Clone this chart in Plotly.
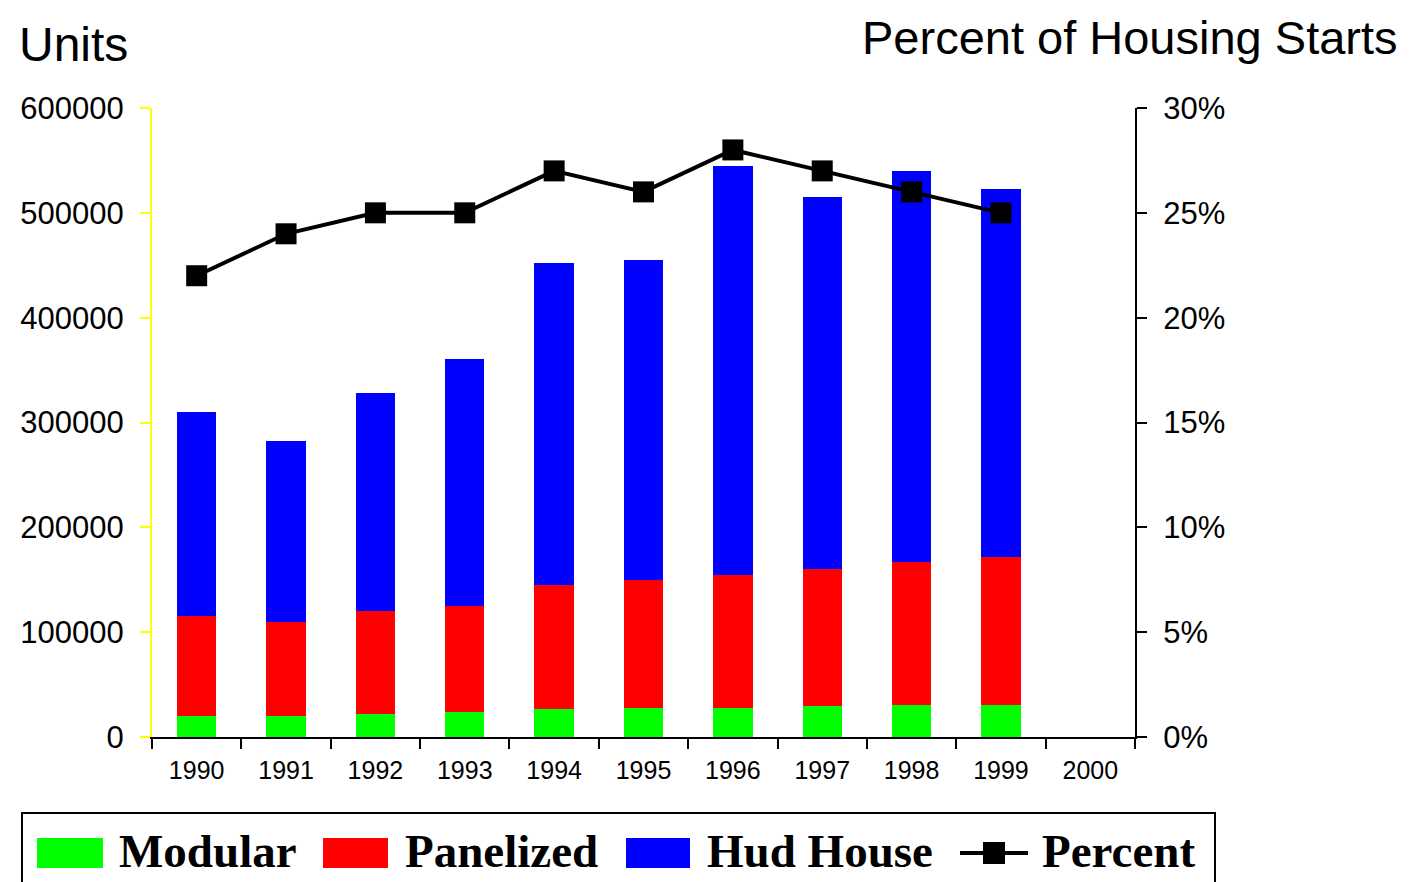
import plotly.graph_objects as go

years = ["1990", "1991", "1992", "1993", "1994", "1995", "1996", "1997", "1998", "1999"]
all_categories = years + ["2000"]
modular = [20000, 20000, 22000, 24000, 27000, 28000, 28000, 30000, 31000, 31000]
panelized = [95000, 90000, 98000, 101000, 118000, 122000, 127000, 130000, 136000, 141000]
hud_house = [195000, 172000, 208000, 236000, 307000, 305000, 390000, 355000, 373000, 351000]
percent = [0.22, 0.24, 0.25, 0.25, 0.27, 0.26, 0.28, 0.27, 0.26, 0.25]

series_names = ["Modular", "Panelized", "Hud House", "Percent"]
colors = ["#00FF00", "#FF0000", "#0000FF", "#000000"]

OFF = 8  # page body margin
W, H = 1423 - OFF, 882 - OFF
L, R, T, B = 152 - OFF, 1135 - OFF, 108 - OFF, 737 - OFF

fig = go.Figure()
for name, vals, col in zip(series_names[:3], [modular, panelized, hud_house], colors[:3]):
    fig.add_trace(go.Bar(x=years, y=vals, name=name, marker=dict(color=col, line=dict(width=0)),
                         showlegend=False))
fig.add_trace(go.Scatter(x=years, y=percent, name="Percent", yaxis="y2", mode="lines+markers",
                         line=dict(color="black", width=4),
                         marker=dict(symbol="square", size=21, color="black"),
                         showlegend=False))

font_sans = "Arial, Liberation Sans, sans-serif"
font_serif = "Times New Roman, Liberation Serif, serif"

# convert reference page pixels to paper coordinates
def px_x(p):
    return (p - OFF - L) / (R - L)

def px_y(p):
    return (B - (p - OFF)) / (B - T)

shapes = []
annotations = []
shapes.append(dict(type="rect", xref="paper", yref="paper",
                   x0=px_x(22), x1=px_x(1215), y0=px_y(813), y1=px_y(900),
                   line=dict(color="black", width=2), fillcolor="rgba(0,0,0,0)"))
sw = [(37, 103), (323, 388), (626, 690)]
for (a, b), col in zip(sw, colors[:3]):
    shapes.append(dict(type="rect", xref="paper", yref="paper",
                       x0=px_x(a), x1=px_x(b), y0=px_y(838), y1=px_y(868),
                       line=dict(width=0), fillcolor=col))
shapes.append(dict(type="line", xref="paper", yref="paper",
                   x0=px_x(960), x1=px_x(1028), y0=px_y(853), y1=px_y(853),
                   line=dict(color="black", width=4)))
shapes.append(dict(type="rect", xref="paper", yref="paper",
                   x0=px_x(983), x1=px_x(1005), y0=px_y(842), y1=px_y(864),
                   line=dict(width=0), fillcolor="black"))
text_x = [117, 403, 705, 1040]
for name, tx in zip(series_names, text_x):
    annotations.append(dict(text="<b>" + name + "</b>", xref="paper", yref="paper",
                            x=px_x(tx), y=px_y(851), xanchor="left", yanchor="middle",
                            showarrow=False, font=dict(family=font_serif, size=47, color="black")))
annotations.append(dict(text="Units", xref="paper", yref="paper", x=px_x(17), y=px_y(45),
                        xanchor="left", yanchor="middle", showarrow=False,
                        font=dict(family=font_sans, size=48, color="black")))
annotations.append(dict(text="Percent of Housing Starts", xref="paper", yref="paper",
                        x=px_x(1400), y=px_y(37), xanchor="right", yanchor="middle",
                        showarrow=False, font=dict(family=font_sans, size=47, color="black")))

fig.update_layout(
    width=W, height=H,
    margin=dict(l=L, r=W - R, t=T, b=H - B, pad=0),
    paper_bgcolor="white", plot_bgcolor="white",
    barmode="stack", bargap=0.56,
    showlegend=False,
    font=dict(family=font_sans, color="black"),
    xaxis=dict(type="category", categoryorder="array", categoryarray=all_categories,
               tickvals=all_categories, range=[-0.5, len(all_categories) - 0.5],
               tickson="boundaries", ticks="outside", ticklen=10, tickwidth=2, tickcolor="black",
               ticklabelstandoff=10,
               showline=True, linecolor="black", linewidth=2, showgrid=False,
               tickfont=dict(size=25, family=font_sans)),
    yaxis=dict(range=[0, 600000], dtick=100000, tickformat="d",
               ticks="outside", ticklen=10, tickwidth=2, tickcolor="#FFFF00",
               ticklabelstandoff=10,
               showline=True, linecolor="#FFFF00", linewidth=2, showgrid=False, zeroline=False,
               tickfont=dict(size=31, family=font_sans)),
    yaxis2=dict(range=[0, 0.30], dtick=0.05, tickformat=".0%", overlaying="y", side="right",
                ticks="outside", ticklen=10, tickwidth=2, tickcolor="black",
                ticklabelstandoff=10,
                showline=True, linecolor="black", linewidth=2, showgrid=False, zeroline=False,
                tickfont=dict(size=31, family=font_sans)),
    shapes=shapes, annotations=annotations,
)

fig.write_html("out.html")
